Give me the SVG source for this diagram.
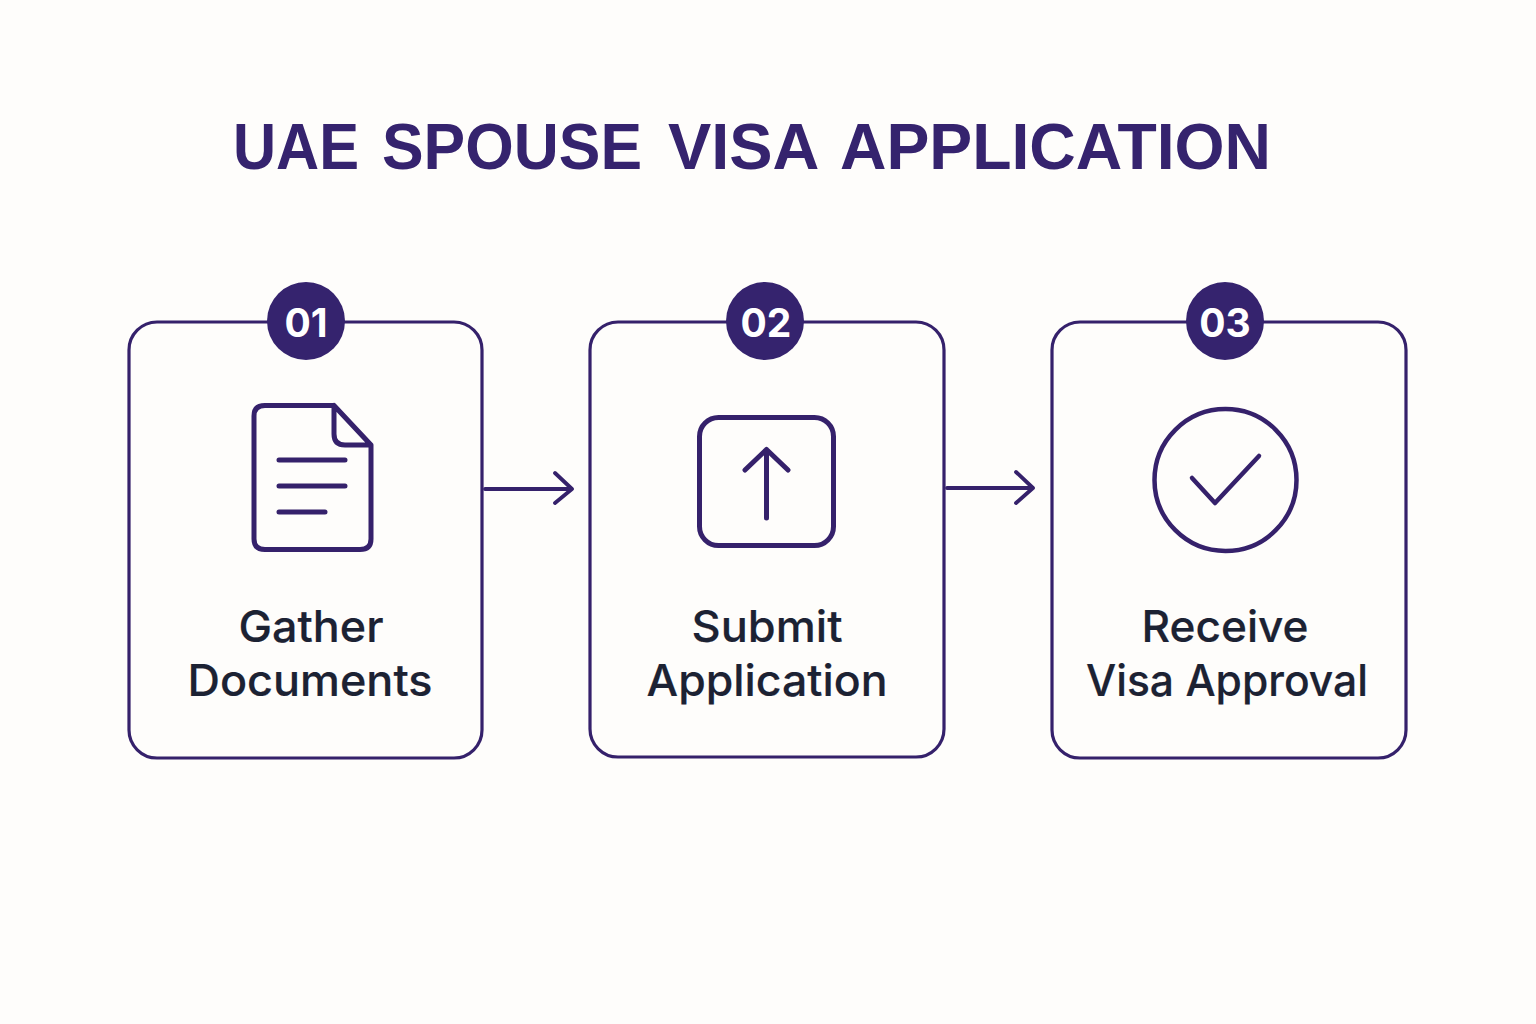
<svg xmlns="http://www.w3.org/2000/svg" width="1536" height="1024" viewBox="0 0 1536 1024">
<defs><style>
.box{fill:none;stroke:#35216b;stroke-width:3.2}
.ic{fill:none;stroke:#35216b;stroke-width:5;stroke-linecap:round;stroke-linejoin:round}
.thin{stroke-width:4.5}
.con{fill:none;stroke:#35216b;stroke-width:3.8;stroke-linecap:round;stroke-linejoin:round}
.badge{fill:#35236e}
.num{font:700 39px "Inter","Liberation Sans",sans-serif;fill:#fff;text-anchor:middle}
.lab{font:500 44px "Inter","Liberation Sans",sans-serif;fill:#1c2233;text-anchor:middle;stroke:#1c2233;stroke-width:.2}
.title{font:700 64px "Liberation Sans",Arial,sans-serif;fill:#35236e}
</style></defs>
<rect width="1536" height="1024" fill="#fefdfb"/>
<text class="title" y="169"><tspan x="233" textLength="126" lengthAdjust="spacingAndGlyphs">UAE</tspan> <tspan x="382" textLength="260" lengthAdjust="spacingAndGlyphs">SPOUSE</tspan> <tspan x="668" textLength="149" lengthAdjust="spacingAndGlyphs">VISA</tspan> <tspan x="840" textLength="431" lengthAdjust="spacingAndGlyphs">APPLICATION</tspan></text>
<g id="connectors">
<path class="con" d="M485 489H571M555 473L572 489L555 503"/>
<path class="con" d="M947 488H1033M1016 472L1033 488L1016 503"/>
</g>
<g id="node1">
<rect class="box" x="129" y="322" width="353" height="436" rx="28"/>
<circle class="badge" cx="306" cy="321" r="39"/>
<text class="num" x="306" y="337">01</text>
<path class="ic" d="M334 405.500H265Q254 405.500 254 416V539Q254 549.500 265 549.500H360Q371 549.500 371 539V445L334 405.500V434Q334 445 345 445H371M279 460H345M279 486H345M279 512H325"/>
<text class="lab" x="311" y="642" textLength="145" lengthAdjust="spacingAndGlyphs">Gather</text>
<text class="lab" x="310" y="696" textLength="245" lengthAdjust="spacingAndGlyphs">Documents</text>
</g>
<g id="node2">
<rect class="box" x="590" y="322" width="354" height="435" rx="28"/>
<circle class="badge" cx="765" cy="321" r="39"/>
<text class="num" x="766" y="337">02</text>
<rect class="ic" x="699.500" y="417.500" width="134" height="128" rx="19"/>
<path class="ic" d="M766.500 518V449.500M745 470L766.500 449.500L788 470"/>
<text class="lab" x="767" y="642" textLength="151" lengthAdjust="spacingAndGlyphs">Submit</text>
<text class="lab" x="767" y="696" textLength="241" lengthAdjust="spacingAndGlyphs">Application</text>
</g>
<g id="node3">
<rect class="box" x="1052" y="322" width="354" height="436" rx="28"/>
<circle class="badge" cx="1225" cy="321" r="39"/>
<text class="num" x="1225" y="337">03</text>
<circle class="ic thin" cx="1225.500" cy="480" r="71"/>
<path class="ic thin" d="M1192 478L1215 503L1259 456"/>
<text class="lab" x="1225" y="642" textLength="167" lengthAdjust="spacingAndGlyphs">Receive</text>
<text class="lab" x="1227" y="696" textLength="282" lengthAdjust="spacingAndGlyphs">Visa Approval</text>
</g>
</svg>
